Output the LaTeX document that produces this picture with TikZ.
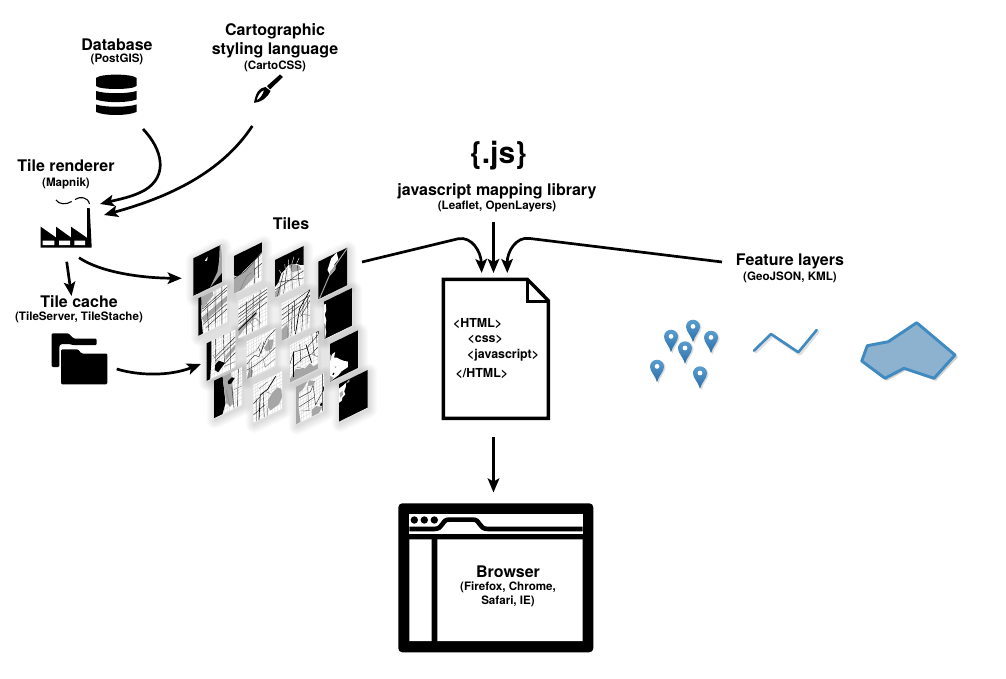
\documentclass[tikz,border=0pt]{standalone}
\usepackage{fontspec}
\setmainfont{TeX Gyre Heros}
\usetikzlibrary{arrows.meta}
\definecolor{mapgrey}{HTML}{A6A6A6}
\definecolor{pinblue}{HTML}{3C8CC8}
\definecolor{pindark}{HTML}{2A6EA6}
\definecolor{linkblue}{HTML}{3F8AC0}
\definecolor{polyfill}{HTML}{8DB2CF}
\tikzset{tileaxes/.style={x={(0.287pt,0.14pt)},y={(0pt,-0.375pt)}}}
\newcommand\tileshadow[2]{%
  \begin{scope}[shift={(#1+1,#2+2)},tileaxes]
    \foreach \w in {1,3,...,17}{\draw[black,opacity=.016,line width=\w pt,line join=round] (0,0)--(100,0)--(100,100)--(0,100)--cycle;}
  \end{scope}}
\newcommand\tile[3]{%
  \begin{scope}[shift={(#1,#2)},tileaxes]
    \clip (0,0)--(100,0)--(100,100)--(0,100)--cycle;
    #3
  \end{scope}}
\newcommand\tbg[1]{\fill[#1] (0,0)--(100,0)--(100,100)--(0,100)--cycle;}
\newcommand\tstreets{%
  \fill[white] (0,0)--(100,0)--(100,100)--(0,100)--cycle;
  \foreach \a in {6,15,23,34,42,51,63,71,80,92}{
    \draw[black!20,line width=.25pt] (\a,0)--(\a+4,100);
    \draw[black!20,line width=.25pt] (0,\a)--(100,\a-7);
  }}
\tikzset{
  title/.style={font=\bfseries\fontsize{16}{18}\selectfont,align=center,inner sep=0pt},
  sub/.style={font=\bfseries\fontsize{11.6}{13}\selectfont,align=center,inner sep=0pt},
  code/.style={font=\bfseries\fontsize{12.4}{13}\selectfont,anchor=west,inner sep=0pt},
  flow/.style={line width=2.7pt,-{Stealth[length=14pt,width=11.5pt,inset=3pt]}},
  ml/.style={black!85,line width=.4pt},
  gl/.style={black!50,line width=.45pt},
  tk/.style={black,line width=.7pt},
  featline/.style={linkblue,line width=2.6pt,line cap=round,line join=round},
  featshadow/.style={black,opacity=.12,line width=3.4pt,line cap=round,line join=round},
  pinshape/.style={top color=pinblue!85!white,bottom color=pindark},
}
\newcommand\pin[3]{%
  \begin{scope}[shift={(#1,#2)}]
    \fill[black,opacity=.14] (1.5,17) .. controls (0,10) and (-5.5,5) .. (-5.5,1) arc[start angle=180,end angle=360,radius=7] .. controls (8.5,5) and (3,10) .. cycle;
    \node[minimum size=0pt,inner sep=0pt] (#3) at (0,0) {};
    \path[pinshape] (0,15.5) .. controls (-1.5,9) and (-7,5) .. (-7,0) arc[start angle=180,end angle=360,radius=7] .. controls (7,5) and (1.5,9) .. cycle;
    \fill[white] (0,-.3) circle (2.4);
  \end{scope}}
\begin{document}
\begin{tikzpicture}[x=1pt,y=-1pt]
\useasboundingbox (0,0) rectangle (1006,679);
\fill[white] (0,0) rectangle (1006,679);

% ---------- labels
\node[title] (dbt) at (117,45) {Database};
\node[sub] (dbs) at (117,59.5) {(PostGIS)};
\node[title] (cart) at (275,31) {Cartographic};
\node[title] (cart2) at (275,50.5) {styling language};
\node[sub] (carts) at (275,66) {(CartoCSS)};
\node[title] (rent) at (66,166) {Tile renderer};
\node[sub] (rens) at (66,183) {(Mapnik)};
\node[title] (tilest) at (291,223.5) {Tiles};
\node[font=\bfseries\fontsize{30}{34}\selectfont,inner sep=0pt] (js) at (498.5,155.5) {\{.js\}};
\node[title] (jst) at (497,191) {javascript mapping library};
\node[sub] (jss) at (497,206.5) {(Leaflet, OpenLayers)};
\node[title] (cachet) at (79,302) {Tile cache};
\node[sub] (caches) at (79,317) {(TileServer, TileStache)};
\node[title] (featt) at (790,261.5) {Feature layers};
\node[sub] (feats) at (790,277) {(GeoJSON, KML)};

% ---------- database icon
\fill[black] (96,78) .. controls (100,73.5) and (132,73.5) .. (136.5,78) -- (136.5,86) .. controls (132,90) and (100,90) .. (96,86) -- cycle;
\fill[black] (96,91) .. controls (105,94) and (127,94) .. (136.5,91) -- (136.5,99.5) .. controls (127,103) and (105,103) .. (96,99.5) -- cycle;
\fill[black] (96,104.5) .. controls (105,107.5) and (127,107.5) .. (136.5,104.5) -- (136.5,112) .. controls (127,116) and (105,116) .. (96,112) -- cycle;

% ---------- brush icon
\fill[black] (283,77) -- (280,74.5) -- (267,86) -- (270,89.5) -- cycle;
\fill[black,even odd rule] (265.5,87) .. controls (259,88) and (256,92) .. (254,102.8) .. controls (262,102) and (267,98) .. (270.5,91) -- cycle
  (256.5,100.5) .. controls (258,95) and (260,92) .. (264,90) .. controls (263,94) and (261,98) .. (256.5,100.5) -- cycle;

% ---------- factory icon
\fill[black] (40.7,226.7) -- (56,237.5) -- (56,226.7) -- (71,237.5) -- (71,226.7) -- (87,237.8) -- (87.2,208) -- (89.7,208) -- (91.7,247.5) -- (40.7,247.5) -- cycle;
\fill[white] (42.7,240.7) rectangle (54.3,245) (59,240.7) rectangle (70,245) (74.3,240.7) rectangle (85,245);
\draw[black,line width=1.1pt] (56,200) .. controls (59,204.5) and (66,205) .. (71.7,201.5);
\draw[black,line width=1.1pt] (75,199.5) .. controls (80,196) and (88,197) .. (89.5,204);

% ---------- folder icon
\fill[black,rounded corners=1.2pt] (51.7,367) -- (51.7,333.3) -- (68.5,333.3) -- (73.5,338.5) -- (96.7,338.5) -- (96.7,345) -- (73,345) -- (69,344) -- (61,344) -- (59.3,346) -- (59.3,367) -- cycle;
\fill[black,rounded corners=1.2pt] (61,384.3) -- (61,349.3) -- (78,349.3) -- (81.5,353.5) -- (107.3,353.5) -- (107.3,384.3) -- cycle;

% ---------- tile shadows
\foreach \tx/\ty in {193.3/258.3,234/256,275/260,318.3/261.7,
                     198.3/298.3,238.3/301,281.7/303.3,324/301.7,
                     206.7/343.3,246.7/341.7,290/345,330/344,
                     214/380.7,253.3/385,296/386.7,339/384}{\tileshadow{\tx}{\ty}}

% ---------- tiles, row 1
\tile{193.3}{258.3}{\tbg{black}
  \fill[mapgrey] (92,0)--(100,0)--(100,76)--(58,100)--(84,68)--(90,40)--cycle;
  \fill[white] (40,22)--(50,14)--(48,24)--cycle;
  \fill[white] (97,0)--(100,0)--(100,30)--cycle;}
\tile{234}{256}{\tstreets
  \fill[black] (0,0)--(100,0)--(100,24)--(75,36)--(55,44)--(35,52)--(15,60)--(0,52)--cycle;
  \fill[mapgrey] (0,54)--(15,62)--(35,54)--(55,46)--(72,40)--(70,82)--(30,100)--(0,100)--cycle;
  \draw[ml] (0,60)--(40,55)--(70,40)--(100,26);
  \draw[ml] (70,40)--(72,100) (85,30)--(85,90) (72,62)--(100,55);
  \draw[gl] (20,100)--(45,70)--(62,68);}
\tile{275}{260}{\tstreets
  \fill[black] (0,0)--(100,0)--(100,50)--(88,46)--(75,38)--(58,34)--(46,30)--(36,38)--(22,44)--(12,64)--(0,72)--cycle;
  \fill[mapgrey] (48,32)--(70,38)--(85,48)--(92,60)--(60,55)--cycle;
  \fill[mapgrey] (0,85)--(22,75)--(16,100)--(0,100)--cycle;
  \draw[ml] (8,100)--(30,45) (30,100)--(42,38) (60,100)--(58,34) (85,100)--(78,42) (0,80)--(100,66) (5,62)--(100,85);
  \draw[white,line width=.4pt] (22,44)--(14,32) (36,38)--(34,24) (46,30)--(48,16) (58,34)--(66,16) (75,38)--(84,26);}
\tile{318.3}{261.7}{\tbg{black}
  \fill[white] (32,34)--(45,8)--(64,0)--(70,20)--(56,28)--(60,42)--(42,52)--cycle;
  \fill[mapgrey] (40,42)--(62,30)--(58,44)--(44,50)--cycle;
  \draw[mapgrey,line width=1pt] (4,100)--(38,52)--(62,30)--(100,2);}
% row 2
\tile{198.3}{298.3}{\tstreets
  \fill[black] (0,0)--(12,0)--(10,50)--(16,100)--(0,100)--cycle;
  \fill[mapgrey] (10,0)--(50,0)--(52,12)--(30,24)--(14,32)--cycle;
  \fill[mapgrey] (12,56)--(100,30)--(100,44)--(20,72)--cycle;
  \draw[ml] (14,34)--(100,8) (14,40)--(100,15) (16,76)--(100,52) (26,88)--(100,66);
  \draw[ml] (30,24)--(36,100) (58,0)--(60,100) (82,0)--(82,100);}
\tile{238.3}{301}{\tstreets
  \fill[mapgrey] (0,72)--(65,50)--(65,60)--(22,82)--(0,95)--cycle;
  \draw[ml] (0,22)--(100,6) (0,36)--(100,14) (0,44)--(100,24) (0,62)--(100,40);
  \draw[ml] (28,12)--(28,100) (52,4)--(50,100) (76,0)--(72,100);
  \draw[black,line width=.8pt] (0,78)--(62,55);
  \draw[gl] (55,90)--(40,70)--(60,68)--(80,90) (0,55)--(100,25);}
\tile{281.7}{303.3}{\tstreets
  \fill[mapgrey] (0,70)--(20,62)--(24,100)--(0,100)--cycle;
  \draw[tk] (100,0)--(62,38)--(48,100);
  \draw[ml] (0,18)--(100,0) (0,32)--(100,14) (0,44)--(62,30) (24,12)--(22,100) (38,20)--(32,100) (76,20)--(70,100) (90,10)--(88,100);
  \draw[ml] (100,14)--(62,50) (100,28)--(66,60) (44,10)--(44,90);
  \draw[gl] (0,60)--(60,50) (64,52)--(100,70);}
\tile{324}{301.7}{\tbg{black}
  \fill[white] (0,8)--(6,8)--(8,25)--(3,36)--(8,52)--(5,70)--(8,84)--(4,100)--(0,100)--cycle;
  \fill[mapgrey] (0,60)--(4,58)--(3,100)--(0,100)--cycle;}
% row 3
\tile{206.7}{343.3}{\tstreets
  \fill[black] (0,0)--(16,0)--(16,55)--(12,100)--(0,100)--cycle;
  \fill[black] (30,68)--(42,62)--(54,70)--(64,76)--(52,84)--(40,92)--(28,82)--cycle;
  \fill[mapgrey] (65,58)--(100,40)--(100,52)--(66,70)--cycle;
  \draw[ml] (30,0)--(32,66) (58,0)--(62,76) (30,48)--(100,20) (30,58)--(100,32) (62,78)--(100,62) (82,0)--(82,100);
  \draw[gl] (22,40)--(36,60) (60,84)--(100,86);}
\tile{246.7}{341.7}{\tstreets
  \fill[mapgrey] (60,40)--(80,24)--(94,30)--(88,52)--(70,52)--cycle;
  \fill[mapgrey] (0,100)--(10,75)--(22,85)--(18,100)--cycle;
  \draw[ml] (0,60)--(28,46)--(42,56)--(70,18)--(100,4);
  \draw[ml] (0,76)--(30,74)--(60,68)--(100,52);
  \draw[ml] (8,56)--(8,100) (16,60)--(16,100) (60,22)--(50,50)--(40,28);
  \draw[gl] (0,40)--(34,36)--(50,22) (56,60)--(64,92)--(100,82) (75,20)--(80,58);}
\tile{290}{345}{\tstreets
  \fill[mapgrey] (0,90)--(20,72)--(52,82)--(70,75)--(82,88)--(100,86)--(100,100)--(0,100)--cycle;
  \draw[tk] (12,22)--(12,90) (56,20)--(75,75);
  \draw[ml] (0,50)--(12,24)--(58,30)--(100,8);
  \draw[ml] (12,62)--(44,52)--(76,52)--(100,40) (34,10)--(38,60) (76,0)--(85,60) (92,0)--(94,30);
  \draw[black,line width=1.1pt] (92,0)--(100,0)--(100,8);
  \draw[gl] (24,68)--(50,82) (76,52)--(100,70);}
\tile{330}{344}{\tbg{black}
  \fill[white] (0,42)--(8,30)--(18,28)--(14,42)--(24,45)--(32,52)--(50,64)--(62,70)--(62,85)--(40,88)--(30,94)--(0,100)--cycle;
  \fill[mapgrey] (0,28)--(5,30)--(4,42)--(0,45)--cycle;
  \fill[black] (12,84) circle (3.5);
  \fill[mapgrey] (15,66)--(22,68)--(20,72)--cycle;
  \fill[mapgrey] (0,85)--(12,94)--(0,100)--cycle;}
% row 4
\tile{214}{380.7}{\tstreets
  \fill[black] (0,0)--(30,0)--(40,75)--(30,100)--(0,100)--cycle;
  \fill[mapgrey] (30,0)--(60,0)--(62,22)--(68,60)--(66,85)--(56,90)--(42,75)--cycle;
  \fill[black] (48,20)--(62,14)--(72,20)--(60,30)--(50,28)--cycle;
  \draw[ml] (85,0)--(82,100) (62,40)--(70,100);
  \draw[gl] (42,40)--(56,90) (70,50)--(100,50);}
\tile{253.3}{385}{\tstreets
  \fill[mapgrey] (50,78)--(52,58)--(68,44)--(85,38)--(98,48)--(100,70)--(90,84)--(60,90)--cycle;
  \draw[tk] (20,100)--(24,36)--(50,30)--(78,6);
  \draw[ml] (0,50)--(24,40) (12,100)--(12,40) (34,32)--(38,100) (0,80)--(40,68);
  \draw[gl] (38,30)--(60,45) (50,80)--(50,100) (20,18)--(50,10);}
\tile{296}{386.7}{\tstreets
  \fill[mapgrey] (0,0)--(40,0)--(24,16)--(10,20)--(9,60)--(16,100)--(0,100)--cycle;
  \fill[mapgrey] (45,0)--(68,10)--(60,18)--(40,14)--cycle;
  \fill[mapgrey] (55,82)--(70,78)--(92,88)--(80,100)--(55,100)--cycle;
  \draw[ml] (10,34)--(50,32)--(60,18) (60,20)--(68,74) (10,58)--(62,52) (68,74)--(100,40) (92,0)--(92,100);
  \draw[gl] (40,14)--(45,80) (20,72)--(50,82);
  \fill[black] (88,80) circle (5);
  \fill[black] (94,38)--(100,32)--(100,60)--cycle;}
\tile{339}{384}{\tbg{black}
  \fill[white] (0,12)--(12,10)--(24,6)--(24,16)--(18,26)--(22,36)--(12,40)--(10,48)--(0,50)--cycle;
  \fill[mapgrey] (2,26)--(12,22)--(14,34)--(4,38)--cycle;
  \fill[mapgrey] (24,8)--(36,0)--(36,8)--cycle;}

% ---------- document
\draw[black,line width=3.4pt,fill=white,line join=miter] (443.3,279.3) -- (527.3,279.3) -- (548.3,300.5) -- (548.3,418.3) -- (443.3,418.3) -- cycle;
\draw[black,line width=3.4pt,line join=miter] (527.3,279.3) -- (527.3,301.5) -- (548.3,301.5);
\node[code] (h1) at (453,324) {<HTML>};
\node[code] (h2) at (467.5,339) {<css>};
\node[code] (h3) at (467,355) {<javascript>};
\node[code] (h4) at (455.5,374) {</HTML>};

% ---------- browser
\fill[black,rounded corners=4pt] (398.3,503.3) rectangle (593.3,652.3);
\fill[white] (409.3,514) rectangle (582.7,534);
\fill[white] (409.3,539.3) rectangle (431.7,641) (437.3,539.3) rectangle (582.7,641);
\draw[black,line width=4.6pt,line join=round] (409.3,529) -- (434,529) .. controls (444,529) and (441,519.6) .. (449,519.6) -- (473,519.6) .. controls (481,519.6) and (478,529) .. (488,529) -- (582.7,529);
\fill[black] (414.3,520) circle (3.7) (424.3,520) circle (3.7) (434.3,520) circle (3.7);
\node[title] (brt) at (508,572) {Browser};
\node[sub] (brs) at (508,587) {(Firefox, Chrome,};
\node[sub] (brs2) at (508,601.5) {Safari, IE)};

% ---------- feature layers
\pin{671}{336.7}{p1}
\pin{693}{326.7}{p2}
\pin{711}{337.7}{p3}
\pin{685}{348.3}{p4}
\pin{657}{366.7}{p5}
\pin{700}{373.3}{p6}
\draw[featshadow] (755.5,352) -- (772.5,335.5) -- (800,354) -- (818,331.5);
\draw[featline] (754,350.7) -- (771,334) -- (798.3,352.3) -- (816.7,330);
\fill[black,opacity=.18] (869.3,347.7) -- (890.3,343.7) -- (918.7,324.7) -- (958,357) -- (936,380.8) -- (906,370.3) -- (887,380.8) -- (863.7,363) -- cycle;
\draw[linkblue,fill=polyfill,line width=2.9pt,line join=round] (867.3,345.7) -- (888.3,341.7) -- (916.7,322.7) -- (955,355) -- (934,378.3) -- (904,368.3) -- (885,378.3) -- (861.7,361) -- cycle;

% ---------- connector ends
\coordinate (dbout) at (143,129);
\coordinate (renin1) at (100,204);
\coordinate (cartout) at (252.3,126);
\coordinate (renin2) at (104,215);
\coordinate (renout) at (79,257.7);
\coordinate (tilesin1) at (181.7,278.3);
\coordinate (renout2) at (66.7,261.7);
\coordinate (cachein) at (71.5,296);
\coordinate (foldout) at (116.7,369);
\coordinate (tilesin2) at (201,364);
\coordinate (tilesout) at (362,262);
\coordinate (docin1) at (481.7,273);
\coordinate (jsout) at (493.5,222);
\coordinate (docin2) at (493.5,273);
\coordinate (featout) at (722,262);
\coordinate (docin3) at (507.3,273);
\coordinate (docout) at (493.5,437);
\coordinate (brin) at (493.5,492.5);

% ---------- connectors
\draw[flow] (dbout) .. controls (163,150) and (168,176) .. (145,190) .. controls (133,197) and (116,200) .. (renin1);
\draw[flow] (cartout) .. controls (222,172) and (170,197) .. (renin2);
\draw[flow] (renout) .. controls (100,272) and (140,278) .. (tilesin1);
\draw[flow] (renout2) -- (cachein);
\draw[flow] (foldout) .. controls (140,376) and (170,376) .. (tilesin2);
\draw[flow] (tilesout) -- (458,238.8) .. controls (472,236) and (481,252) .. (docin1);
\draw[flow] (jsout) -- (docin2);
\draw[flow] (featout) -- (530,238.5) .. controls (516,236) and (507,252) .. (docin3);
\draw[flow] (docout) -- (brin);
\end{tikzpicture}
\end{document}
